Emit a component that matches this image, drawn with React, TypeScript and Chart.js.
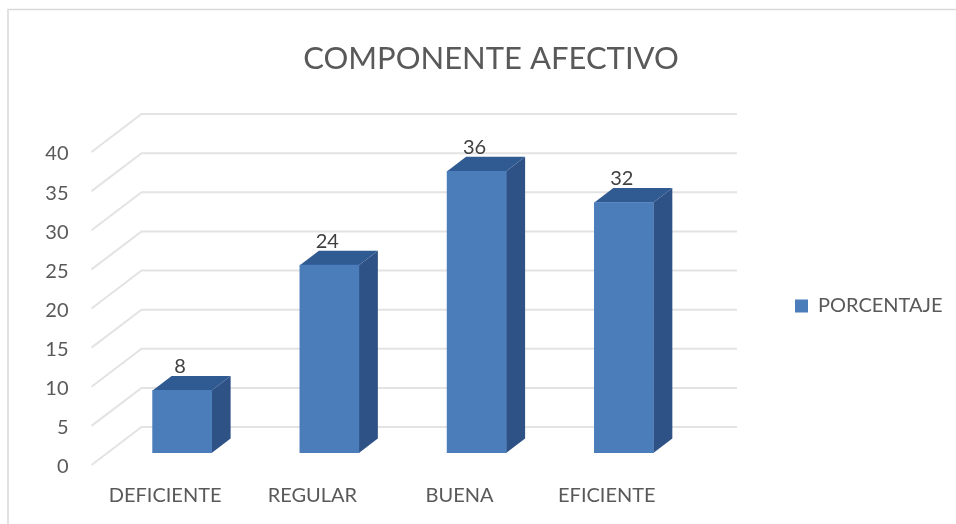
import React, { useEffect, useRef } from "react";
import { Chart, registerables } from "chart.js";

Chart.register(...registerables);

const categories = ["DEFICIENTE", "REGULAR", "BUENA", "EFICIENTE"];
const seriesName = "PORCENTAJE";
const values = [8, 24, 36, 32];
const chartTitle = "COMPONENTE AFECTIVO";

const FONT = "Lato, Carlito, Calibri, sans-serif";
const TEXT = "#595959";
const FRONT = "#4a7dba";
const TOP = "#2f5a92";
const SIDE = "#2e5285";
const GRID = "#e3e3e3";

const threeD = {
  id: "threeD",
  afterLayout(chart: any) {
    const l = chart.legend;
    const w = l.right - l.left;
    l.left = 785;
    l.right = 785 + w;
    l.top += 44;
    l.bottom += 44;
    const t = chart.titleBlock;
    t.left = 0;
    t.right = 982;
  },
  beforeDraw(chart: any) {
    const ctx = chart.ctx;
    ctx.save();
    ctx.strokeStyle = "#d9d9d9";
    ctx.lineWidth = 1.5;
    ctx.beginPath();
    ctx.moveTo(8, 524);
    ctx.lineTo(8, 9.5);
    ctx.lineTo(956, 9.5);
    ctx.stroke();
    ctx.restore();
  },
  beforeDatasetsDraw(chart: any) {
    const ctx = chart.ctx;
    const { x, y } = chart.scales;
    const left = x.left;
    ctx.save();
    ctx.strokeStyle = GRID;
    ctx.lineWidth = 2;
    y.ticks.forEach((t: any) => {
      const py = y.getPixelForValue(t.value) - 2;
      ctx.beginPath();
      ctx.moveTo(left, py);
      ctx.lineTo(left + 50, py - 38);
      ctx.lineTo(737, py - 38);
      ctx.stroke();
    });
    ctx.restore();

    ctx.save();
    ctx.translate(17, -14);
    const dx = 19;
    const dy = 14.5;
    chart.getDatasetMeta(0).data.forEach((bar: any) => {
      const l0 = bar.x - bar.width / 2;
      const r0 = bar.x + bar.width / 2;
      ctx.fillStyle = SIDE;
      ctx.beginPath();
      ctx.moveTo(r0, bar.base);
      ctx.lineTo(r0 + dx, bar.base - dy);
      ctx.lineTo(r0 + dx, bar.y - dy);
      ctx.lineTo(r0, bar.y);
      ctx.closePath();
      ctx.fill();
      ctx.fillStyle = TOP;
      ctx.beginPath();
      ctx.moveTo(l0, bar.y);
      ctx.lineTo(l0 + dx, bar.y - dy);
      ctx.lineTo(r0 + dx, bar.y - dy);
      ctx.lineTo(r0, bar.y);
      ctx.closePath();
      ctx.fill();
    });
  },
  afterDatasetsDraw(chart: any) {
    const ctx = chart.ctx;
    ctx.restore();
    ctx.save();
    ctx.fillStyle = "#404040";
    ctx.font = `20px ${FONT}`;
    ctx.textAlign = "center";
    ctx.textBaseline = "middle";
    chart.getDatasetMeta(0).data.forEach((bar: any, i: number) => {
      ctx.fillText(String(values[i]), bar.x + 15, bar.y - 14 - 24);
    });
    ctx.restore();
  },
};

export default function App() {
  const ref = useRef<HTMLCanvasElement>(null);
  useEffect(() => {
    const chart = new Chart(ref.current!, {
      type: "bar",
      data: {
        labels: categories,
        datasets: [
          {
            label: seriesName,
            data: values,
            backgroundColor: FRONT,
            barThickness: 59,
          },
        ],
      },
      options: {
        animation: false,
        responsive: false,
        layout: { padding: { right: 108 } },
        plugins: {
          title: {
            display: true,
            text: chartTitle,
            color: TEXT,
            font: { family: FONT, size: 31, weight: "normal" },
            padding: { top: 40, bottom: 76.8 },
          },
          legend: {
            position: "right",
            labels: {
              boxWidth: 13,
              boxHeight: 13,
              color: TEXT,
              font: { family: FONT, size: 20 },
            },
          },
          tooltip: { enabled: false },
        },
        scales: {
          x: {
            grid: { display: false },
            border: { display: false },
            ticks: { color: TEXT, font: { family: FONT, size: 20 }, padding: 9, maxRotation: 0 },
            afterFit(s: any) {
              s.height = 57;
            },
          },
          y: {
            min: 0,
            max: 40,
            grid: { display: false, drawTicks: false },
            border: { display: false },
            ticks: { stepSize: 5, color: TEXT, font: { family: FONT, size: 20 }, padding: 23 },
            afterFit(s: any) {
              s.width = 91.5;
            },
          },
        },
      },
      plugins: [threeD],
    } as any);
    return () => chart.destroy();
  }, []);
  return (
    <canvas
      ref={ref}
      width={956}
      height={524}
      style={{ position: "absolute", left: 0, top: 0, display: "block" }}
    />
  );
}
